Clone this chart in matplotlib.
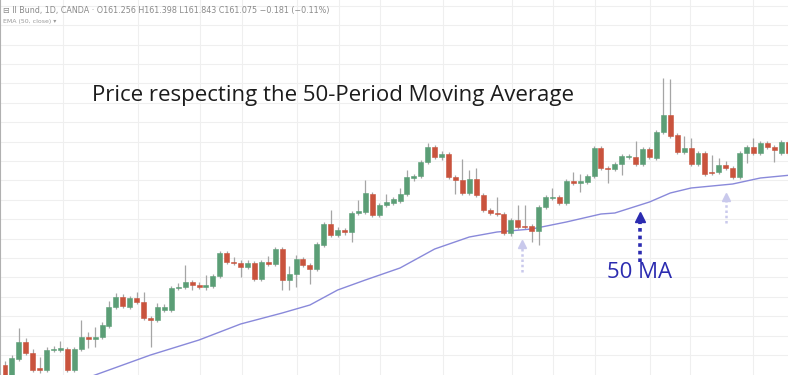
import numpy as np
import matplotlib.pyplot as plt

# candle values (arbitrary price units, 0 = bottom edge)
opens = [10, -1, 16, 33, 22, 7, 5, 25, 25, 26,
         5, 26, 38, 36, 38, 49, 68, 78, 68, 77,
         73, 57, 55, 65, 65, 87, 88, 93, 90, 88,
         89, 99, 122, 113, 112, 108, 112, 96, 113, 111,
         126, 95, 101, 116, 110, 106, 130, 151, 140, 145,
         143, 162, 163, 181, 160, 170, 172, 174, 181, 197,
         199, 213, 228, 218, 221, 198, 195, 182, 196, 180,
         165, 162, 161, 142, 155, 149, 149, 144, 168, 177,
         178, 172, 194, 192, 193, 199, 227, 207, 206, 211,
         218, 218, 211, 226, 217, 243, 260, 240, 223, 227,
         211, 222, 203, 203, 210, 207, 198, 222, 228, 222,
         232, 228, 222, 233]
closes = [-3, 17, 33, 22, 5, 5, 25, 26, 27, 5,
          26, 38, 36, 38, 50, 68, 78, 69, 77, 73,
          57, 55, 68, 68, 87, 88, 93, 90, 88, 90,
          99, 122, 113, 112, 108, 112, 96, 113, 111, 126,
          95, 101, 116, 110, 106, 131, 151, 140, 145, 143,
          162, 164, 182, 160, 170, 173, 176, 181, 198, 199,
          213, 228, 218, 221, 198, 195, 182, 196, 180, 165,
          162, 161, 142, 155, 148, 148, 144, 168, 178, 178,
          172, 194, 192, 194, 199, 227, 207, 206, 211, 219,
          219, 211, 226, 218, 243, 260, 239, 223, 227, 211,
          222, 201, 202, 210, 207, 198, 222, 228, 222, 232,
          228, 225, 233, 222]
highs = [14, 20, 47, 37, 26, 18, 28, 29, 34, 28,
         28, 55, 43, 48, 53, 74, 82, 81, 79, 83,
         83, 59, 72, 71, 89, 92, 110, 95, 93, 100,
         101, 124, 124, 118, 115, 115, 114, 115, 119, 128,
         128, 109, 120, 118, 112, 133, 153, 165, 148, 147,
         164, 175, 195, 183, 172, 181, 178, 187, 205, 201,
         215, 232, 230, 224, 223, 200, 216, 205, 207, 182,
         167, 178, 163, 157, 170, 170, 151, 170, 180, 187,
         180, 196, 203, 201, 201, 229, 229, 209, 213, 221,
         221, 234, 228, 228, 245, 297, 296, 242, 239, 237,
         224, 224, 220, 217, 214, 209, 224, 230, 237, 234,
         234, 230, 235, 235]
lows = [-5, -3, 14, 20, 3, 2, 3, 23, 23, 3,
        3, 24, 27, 28, 36, 47, 66, 67, 66, 71,
        55, 28, 53, 63, 63, 85, 86, 85, 86, 85,
        87, 97, 111, 110, 98, 106, 94, 94, 109, 109,
        85, 85, 88, 108, 91, 104, 128, 138, 138, 140,
        133, 160, 161, 158, 158, 168, 170, 172, 179, 194,
        197, 211, 216, 215, 196, 181, 180, 180, 178, 163,
        160, 159, 140, 139, 146, 146, 133, 130, 166, 175,
        170, 170, 190, 183, 191, 197, 205, 192, 204, 200,
        216, 209, 209, 216, 215, 241, 237, 221, 221, 209,
        209, 199, 200, 201, 205, 196, 196, 212, 220, 220,
        226, 213, 220, 220]

# 50 period moving average, read at a few candle positions
ma_idx = [12, 14, 22, 29, 35, 41, 45, 49, 53, 58, 63, 68, 72, 77, 82, 87, 89, 94, 97, 100, 106, 110, 114.5]
ma_val = [-5, 0, 20, 35, 51, 62, 70, 85, 95, 107, 126, 138, 143, 146, 153, 161, 162, 173, 182, 187, 191, 197, 200]

# arrows: candle position, tail, tip
arrow_x = [75.6, 92.6, 105.0]
arrow_tail = [103, 113, 152]
arrow_tip = [135, 162, 182]

header = "\u229f II Bund, 1D, CANDA \u00b7 O161.256 H161.398 L161.843 C161.075 \u22120.181 (\u22120.11%)"
title = "Price respecting the 50-Period Moving Average"

W, H = 788, 375
step = 6.93  # pixels per candle
vgrid_px = [63, 138, 200, 242, 297, 339, 380, 443, 512, 553, 595, 650, 690, 753]

opens = np.array(opens); closes = np.array(closes)
highs = np.array(highs); lows = np.array(lows)
x = np.arange(1, len(opens) + 1)

fig = plt.figure(figsize=(W / 100, H / 100), dpi=100)
ax = fig.add_axes([0, 0, 1, 1])
ax.set_xlim(1 - 5 / step, 1 + (W - 5) / step)
ax.set_ylim(0, H)

ax.set_yticks(np.arange(20, H, 19.4))
ax.set_xticks(1 + (np.array(vgrid_px) - 5) / step)
ax.grid(color='#efefef', lw=0.8, zorder=0)
ax.tick_params(length=0, labelleft=False, labelbottom=False)
for s in ['top', 'right', 'bottom']:
    ax.spines[s].set_visible(False)
ax.spines['left'].set_color('#b0b0b0')

up = closes >= opens
cols = np.where(up, '#5b9e76', '#c9533d')
body_bot = np.minimum(opens, closes)
body_h = np.maximum(np.abs(closes - opens), 1.3)

ax.vlines(x, lows, highs, color='#a5a5a5', lw=0.9, zorder=2)
ax.bar(x, body_h, bottom=body_bot, width=0.72, color=cols, edgecolor=cols, lw=0.4, zorder=3)

ax.plot(ma_idx, ma_val, color='#8989da', lw=1.0, zorder=2)

for i, (ax_x, t0, t1) in enumerate(zip(arrow_x, arrow_tail, arrow_tip)):
    c = '#2b2bb0' if i == 1 else '#c9c9ec'
    lw = 2.6 if i == 1 else 1.8
    ax.plot([ax_x, ax_x], [t0, t1 - 8], color=c, lw=lw, ls=(0, (1, 1.1)), zorder=4)
    ax.plot([ax_x], [t1 - 4], marker='^', ms=7 if i == 1 else 6, color=c, zorder=4)

fig.text(3 / W, 1 - 10 / H, header, fontsize=5.8, color='#8a8a8a', va='center')
fig.text(3 / W, 1 - 21 / H, "EMA (50, close) \u25be", fontsize=4.5, color='#9a9a9a', va='center')
fig.text(92 / W, 1 - 95 / H, title, fontsize=16, family='Open Sans', color='#1c1c1c', va='center')
fig.text(607 / W, 1 - 273 / H, "50 MA", fontsize=16, family='Open Sans', color='#2b2bb0', va='center')

fig.savefig('out.png', dpi=100)
